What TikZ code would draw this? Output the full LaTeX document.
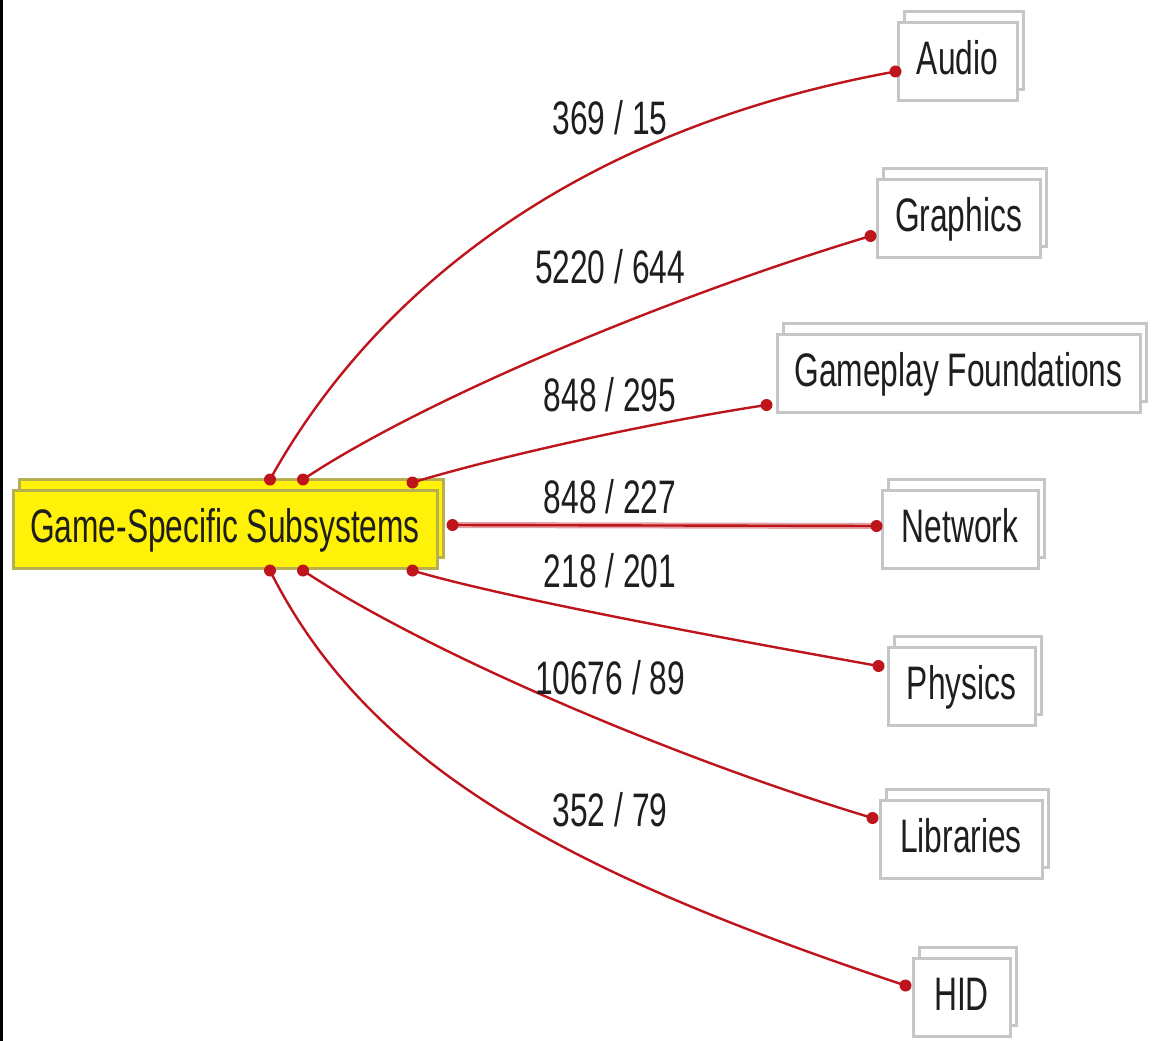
\documentclass[tikz,border=0pt]{standalone}
\usepackage{fontspec}
\setmainfont{Liberation Sans}[FakeStretch=0.675]
\usetikzlibrary{shadows}
\definecolor{edgered}{RGB}{190,20,28}
\definecolor{boxgray}{RGB}{198,198,198}
\definecolor{olive}{RGB}{182,176,80}
\definecolor{txt}{RGB}{30,30,30}
\begin{document}
\begin{tikzpicture}[x=1pt,y=-1pt,
  lbl/.style={font=\fontsize{47}{56}\selectfont, text=txt, inner sep=0pt},
  sysbox/.style={draw=boxgray, line width=3pt, fill=white, minimum height=78pt,
     inner sep=0pt, text height=34pt, text depth=8pt, text=txt,
     font=\fontsize{47}{56}\selectfont,
     copy shadow={shadow xshift=6pt, shadow yshift=11pt}},
  mainbox/.style={sysbox, draw=olive, fill=yellow!97!white},
  link/.style={draw=edgered, line width=2.4pt},
  dot/.style={circle, fill=edgered, inner sep=0pt, minimum size=12pt}
]
\useasboundingbox (0,0) rectangle (1152,1041);
\fill[white] (0,0) rectangle (1152,1041);
\fill[black] (0,0) rectangle (3,1041);

% nodes
\node[mainbox, minimum width=424pt] (main) at (225,529) {Game-Specific Subsystems};
\node[sysbox, minimum width=119pt] (audio) at (957.5,61.5) {Audio};
\node[sysbox, minimum width=163pt] (graphics) at (958.5,218) {Graphics};
\node[sysbox, minimum width=363pt] (gameplay) at (958.5,373) {Gameplay Foundations};
\node[sysbox, minimum width=156pt] (network) at (960,529) {Network};
\node[sysbox, minimum width=147pt] (physics) at (961.5,686) {Physics};
\node[sysbox, minimum width=162pt] (libraries) at (961,839) {Libraries};
\node[sysbox, minimum width=97pt] (hid) at (961.5,997.5) {HID};

% endpoints
\coordinate (mA) at ([shift={(45,-9)}]main.north);
\coordinate (mG) at ([shift={(78,-9)}]main.north);
\coordinate (mF) at ([shift={(-26,-6)}]main.north east);
\coordinate (mN) at ([shift={(14,-4)}]main.east);
\coordinate (mP) at ([shift={(-26,1)}]main.south east);
\coordinate (mL) at ([shift={(78,1)}]main.south);
\coordinate (mH) at ([shift={(45,1)}]main.south);
\coordinate (eA) at ([shift={(-1,10)}]audio.west);
\coordinate (eG) at ([shift={(-5,18)}]graphics.west);
\coordinate (eF) at ([shift={(-9,32)}]gameplay.west);
\coordinate (eN) at ([shift={(-4,-3)}]network.west);
\coordinate (eP) at ([shift={(-8,-20)}]physics.west);
\coordinate (eL) at ([shift={(-6,-21)}]libraries.west);
\coordinate (eH) at ([shift={(-6,-12)}]hid.west);

% connectors
\draw[link] (mA) .. controls +(100,-180) and +(-330,60) .. (eA);
\draw[link] (mG) .. controls +(120,-80) and +(-200,60) .. (eG);
\draw[link] (mF) .. controls +(100,-30) and +(-100,15) .. (eF);
\draw[draw=edgered!40, line width=6pt] (mN) -- (eN);
\draw[link] (mN) -- (eN);
\draw[link] (mP) .. controls +(100,30) and +(-100,-18) .. (eP);
\draw[link] (mL) .. controls +(120,80) and +(-200,-60) .. (eL);
\draw[link] (mH) .. controls +(100,200) and +(-330,-110) .. (eH);

\foreach \p in {mA,mG,mF,mN,mP,mL,mH,eA,eG,eF,eN,eP,eL,eH}
  \node[dot] at (\p) {};

% labels
\node[lbl] (l1) at (610,118) {369 / 15};
\node[lbl] (l2) at (610,267) {5220 / 644};
\node[lbl] (l3) at (610,395) {848 / 295};
\node[lbl] (l4) at (610,497) {848 / 227};
\node[lbl] (l5) at (610,571) {218 / 201};
\node[lbl] (l6) at (610,678) {10676 / 89};
\node[lbl] (l7) at (610,810) {352 / 79};
\end{tikzpicture}
\end{document}
